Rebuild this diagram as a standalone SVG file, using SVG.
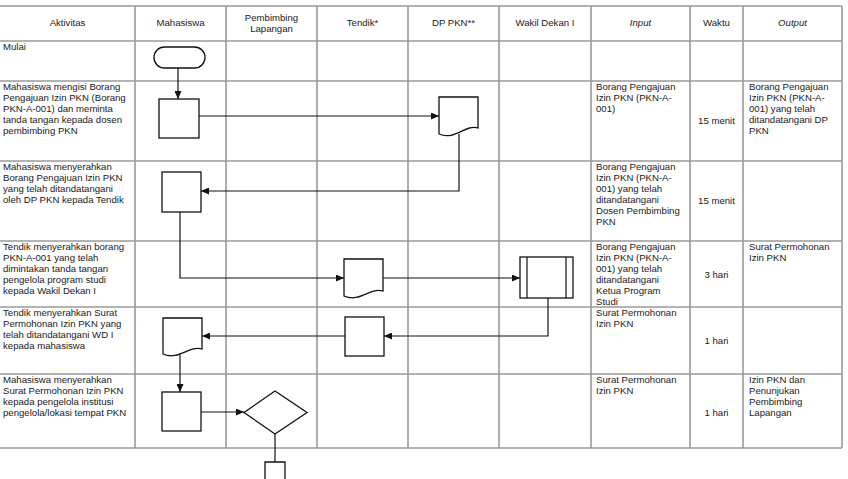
<svg xmlns="http://www.w3.org/2000/svg" width="848" height="479" viewBox="0 0 848 479">
<style>
.grid{stroke:#9a9a9a;stroke-width:1.6;fill:none}
.t{font-family:"Liberation Sans",Arial,sans-serif;font-size:9.6px;fill:#1a1a1a}
.c{text-anchor:middle}
.i{font-style:italic}
.s{fill:#fff;stroke:#111;stroke-width:1.3}
.cn{fill:none;stroke:#111;stroke-width:1.2}
</style>
<defs>
<marker id="ar" markerUnits="userSpaceOnUse" markerWidth="8" markerHeight="7" refX="8" refY="3.5" orient="auto">
<path d="M0,0 L8,3.5 L0,7 Z" fill="#111"/>
</marker>
</defs>
<rect width="848" height="479" fill="#fff"/>
<g id="table">
<path class="grid" d="M0,6H842M0,41H842M0,81H842M0,161H842M0,241H842M0,307H842M0,374H842M0,448H842M135,6V448M226,6V448M317,6V448M408,6V448M499,6V448M591,6V448M690,6V448M743,6V448M842,6V448"/>
<g id="header">
<text class="t c" x="67.5" y="26">Aktivitas</text>
<text class="t c" x="180.5" y="26">Mahasiswa</text>
<text class="t c" x="271.5" y="21">Pembimbing</text>
<text class="t c" x="271.5" y="32">Lapangan</text>
<text class="t c" x="362.5" y="26">Tendik*</text>
<text class="t c" x="453.5" y="26">DP PKN**</text>
<text class="t c" x="545" y="26">Wakil Dekan I</text>
<text class="t c i" x="640.5" y="26">Input</text>
<text class="t c" x="716.5" y="26">Waktu</text>
<text class="t c i" x="792.5" y="26">Output</text>
</g>
<g id="aktivitas">
<text class="t" x="3" y="50">Mulai</text>
<text class="t" x="3" y="90">Mahasiswa mengisi Borang<tspan x="3" dy="11">Pengajuan Izin PKN (Borang</tspan><tspan x="3" dy="11">PKN-A-001) dan meminta</tspan><tspan x="3" dy="11">tanda tangan kepada dosen</tspan><tspan x="3" dy="11">pembimbing PKN</tspan></text>
<text class="t" x="3" y="170">Mahasiswa menyerahkan<tspan x="3" dy="11">Borang Pengajuan Izin PKN</tspan><tspan x="3" dy="11">yang telah ditandatangani</tspan><tspan x="3" dy="11">oleh DP PKN kepada Tendik</tspan></text>
<text class="t" x="3" y="250">Tendik menyerahkan borang<tspan x="3" dy="11">PKN-A-001 yang telah</tspan><tspan x="3" dy="11">dimintakan tanda tangan</tspan><tspan x="3" dy="11">pengelola program studi</tspan><tspan x="3" dy="11">kepada Wakil Dekan I</tspan></text>
<text class="t" x="3" y="316">Tendik menyerahkan Surat<tspan x="3" dy="11">Permohonan Izin PKN yang</tspan><tspan x="3" dy="11">telah ditandatangani WD I</tspan><tspan x="3" dy="11">kepada mahasiswa</tspan></text>
<text class="t" x="3" y="383">Mahasiswa menyerahkan<tspan x="3" dy="11">Surat Permohonan Izin PKN</tspan><tspan x="3" dy="11">kepada pengelola institusi</tspan><tspan x="3" dy="11">pengelola/lokasi tempat PKN</tspan></text>
</g>
<g id="input">
<text class="t" x="596" y="90">Borang Pengajuan<tspan x="596" dy="11">Izin PKN (PKN-A-</tspan><tspan x="596" dy="11">001)</tspan></text>
<text class="t" x="596" y="170">Borang Pengajuan<tspan x="596" dy="11">Izin PKN (PKN-A-</tspan><tspan x="596" dy="11">001) yang telah</tspan><tspan x="596" dy="11">ditandatangani</tspan><tspan x="596" dy="11">Dosen Pembimbing</tspan><tspan x="596" dy="11">PKN</tspan></text>
<text class="t" x="596" y="250">Borang Pengajuan<tspan x="596" dy="11">Izin PKN (PKN-A-</tspan><tspan x="596" dy="11">001) yang telah</tspan><tspan x="596" dy="11">ditandatangani</tspan><tspan x="596" dy="11">Ketua Program</tspan><tspan x="596" dy="11">Studi</tspan></text>
<text class="t" x="596" y="316">Surat Permohonan<tspan x="596" dy="11">Izin PKN</tspan></text>
<text class="t" x="596" y="383">Surat Permohonan<tspan x="596" dy="11">Izin PKN</tspan></text>
</g>
<g id="waktu">
<text class="t c" x="716.5" y="124">15 menit</text>
<text class="t c" x="716.5" y="204">15 menit</text>
<text class="t c" x="716.5" y="278">3 hari</text>
<text class="t c" x="716.5" y="344">1 hari</text>
<text class="t c" x="716.5" y="416">1 hari</text>
</g>
<g id="output">
<text class="t" x="749" y="90">Borang Pengajuan<tspan x="749" dy="11">Izin PKN (PKN-A-</tspan><tspan x="749" dy="11">001) yang telah</tspan><tspan x="749" dy="11">ditandatangani DP</tspan><tspan x="749" dy="11">PKN</tspan></text>
<text class="t" x="749" y="250">Surat Permohonan<tspan x="749" dy="11">Izin PKN</tspan></text>
<text class="t" x="749" y="383">Izin PKN dan<tspan x="749" dy="11">Penunjukan</tspan><tspan x="749" dy="11">Pembimbing</tspan><tspan x="749" dy="11">Lapangan</tspan></text>
</g>
</g>
<g id="connectors">
<path class="cn" d="M178,68V99" marker-end="url(#ar)"/>
<path class="cn" d="M199,116H439" marker-end="url(#ar)"/>
<path class="cn" d="M459,134V191H201" marker-end="url(#ar)"/>
<path class="cn" d="M180,212V278H344" marker-end="url(#ar)"/>
<path class="cn" d="M383,278H520" marker-end="url(#ar)"/>
<path class="cn" d="M548,298V336H384" marker-end="url(#ar)"/>
<path class="cn" d="M345,336H202" marker-end="url(#ar)"/>
<path class="cn" d="M180,355V392" marker-end="url(#ar)"/>
<path class="cn" d="M201,412H244" marker-end="url(#ar)"/>
<path class="cn" d="M275,434V462"/>
</g>
<g id="start"><rect class="s" x="154" y="47" width="51" height="21" rx="10.5"/></g>
<g id="proc1"><rect class="s" x="159" y="99" width="40" height="39"/></g>
<g id="doc1"><path class="s" d="M439,97H478V128C465,124 455,141 439,134Z"/></g>
<g id="proc2"><rect class="s" x="162" y="172" width="39" height="40"/></g>
<g id="doc2"><path class="s" d="M344,259H383V291C370,287 360,303 344,296Z"/></g>
<g id="predef"><rect class="s" x="520" y="257" width="53" height="41"/><path class="cn" d="M527,257V298M566,257V298"/></g>
<g id="proc3"><rect class="s" x="345" y="317" width="39" height="39"/></g>
<g id="doc3"><path class="s" d="M163,318H202V349C189,345 179,361 163,354Z"/></g>
<g id="proc4"><rect class="s" x="162" y="392" width="39" height="39"/></g>
<g id="decision"><path class="s" d="M244,412.5L275,391L307,412.5L275,434Z"/></g>
<g id="offpage"><path class="s" d="M265,485V462H285V485"/></g>
</svg>
